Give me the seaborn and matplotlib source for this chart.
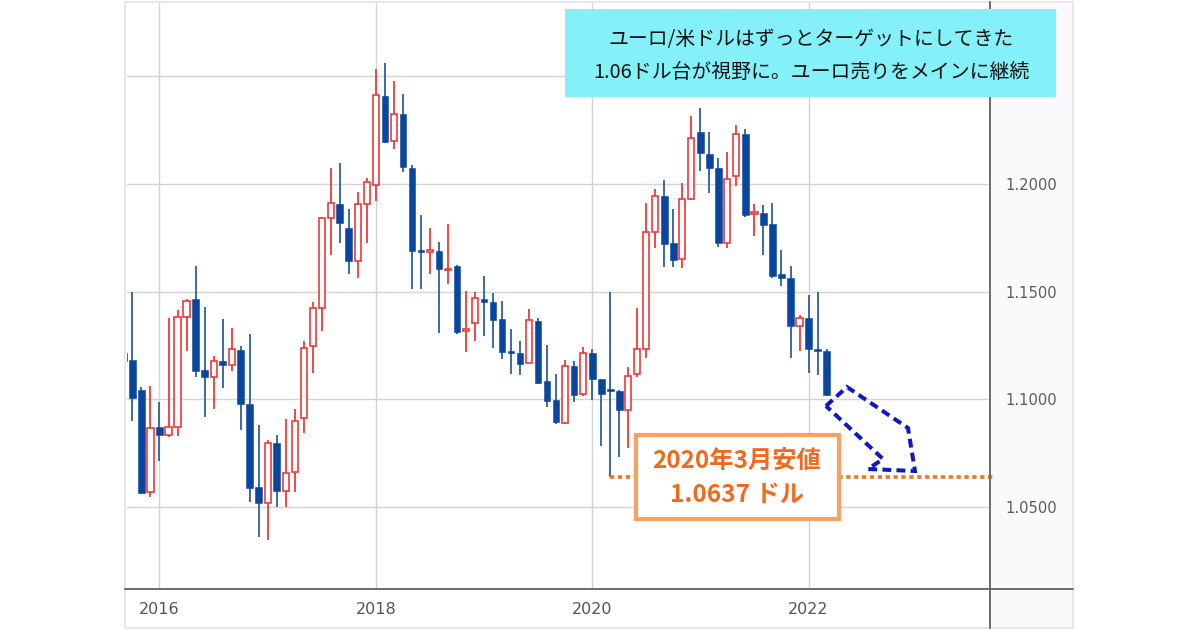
import numpy as np
import pandas as pd
import matplotlib
matplotlib.use("Agg")
import matplotlib.pyplot as plt
from matplotlib.patches import Rectangle, Polygon
from matplotlib.lines import Line2D
import seaborn as sns

# ---- data (EUR/USD monthly candles) ----
months = ["2015-09", "2015-10", "2015-11", "2015-12",
          "2016-01", "2016-02", "2016-03", "2016-04", "2016-05", "2016-06",
          "2016-07", "2016-08", "2016-09", "2016-10", "2016-11", "2016-12",
          "2017-01", "2017-02", "2017-03", "2017-04", "2017-05", "2017-06",
          "2017-07", "2017-08", "2017-09", "2017-10", "2017-11", "2017-12",
          "2018-01", "2018-02", "2018-03", "2018-04", "2018-05", "2018-06",
          "2018-07", "2018-08", "2018-09", "2018-10", "2018-11", "2018-12",
          "2019-01", "2019-02", "2019-03", "2019-04", "2019-05", "2019-06",
          "2019-07", "2019-08", "2019-09", "2019-10", "2019-11", "2019-12",
          "2020-01", "2020-02", "2020-03", "2020-04", "2020-05", "2020-06",
          "2020-07", "2020-08", "2020-09", "2020-10", "2020-11", "2020-12",
          "2021-01", "2021-02", "2021-03", "2021-04", "2021-05", "2021-06",
          "2021-07", "2021-08", "2021-09", "2021-10", "2021-11", "2021-12",
          "2022-01", "2022-02", "2022-03"]

open_ = [1.1215, 1.1182, 1.1043, 1.0570,
         1.0872, 1.0834, 1.0872, 1.1384, 1.1465, 1.1136,
         1.1105, 1.1175, 1.1159, 1.1229, 1.0978, 1.0591,
         1.0519, 1.0798, 1.0574, 1.0663, 1.0912, 1.1247,
         1.1424, 1.1841, 1.1908, 1.1795, 1.1642, 1.1908,
         1.1996, 1.2407, 1.2198, 1.2325, 1.2076, 1.1692,
         1.1684, 1.1690, 1.1598, 1.1620, 1.1318, 1.1353,
         1.1467, 1.1452, 1.1372, 1.1226, 1.1216, 1.1167,
         1.1365, 1.1082, 1.0996, 1.0891, 1.1155, 1.1023,
         1.1213, 1.1093, 1.1045, 1.1040, 1.0950, 1.1116,
         1.1234, 1.1779, 1.1942, 1.1725, 1.1651, 1.1930,
         1.2244, 1.2139, 1.2076, 1.1728, 1.2035, 1.2232,
         1.1860, 1.1867, 1.1815, 1.1581, 1.1565, 1.1340,
         1.1375, 1.1231, 1.1222]

high = [1.1460, 1.1497, 1.1056, 1.1062,
        1.0989, 1.1376, 1.1415, 1.1465, 1.1619, 1.1430,
        1.1201, 1.1372, 1.1330, 1.1248, 1.1302, 1.0880,
        1.0811, 1.0831, 1.0908, 1.0954, 1.1268, 1.1452,
        1.1846, 1.2076, 1.2098, 1.1883, 1.1963, 1.2030,
        1.2537, 1.2562, 1.2480, 1.2420, 1.2088, 1.1856,
        1.1796, 1.1731, 1.1815, 1.1625, 1.1505, 1.1500,
        1.1573, 1.1493, 1.1454, 1.1325, 1.1268, 1.1418,
        1.1376, 1.1252, 1.1117, 1.1183, 1.1175, 1.1241,
        1.1232, 1.1095, 1.1500, 1.1043, 1.1148, 1.1423,
        1.1914, 1.1975, 1.2019, 1.1883, 1.2007, 1.2314,
        1.2353, 1.2244, 1.2120, 1.2151, 1.2275, 1.2256,
        1.1906, 1.1903, 1.1914, 1.1694, 1.1619, 1.1392,
        1.1485, 1.1500, 1.1235]

low = [1.1087, 1.0897, 1.0558, 1.0547,
       1.0714, 1.0823, 1.0829, 1.1226, 1.1102, 1.0916,
       1.0955, 1.1051, 1.1133, 1.0857, 1.0523, 1.0358,
       1.0346, 1.0500, 1.0499, 1.0570, 1.0843, 1.1123,
       1.1319, 1.1671, 1.1725, 1.1581, 1.1564, 1.1725,
       1.1923, 1.2190, 1.2162, 1.2058, 1.1511, 1.1510,
       1.1582, 1.1307, 1.1536, 1.1302, 1.1218, 1.1270,
       1.1294, 1.1240, 1.1186, 1.1117, 1.1113, 1.1167,
       1.1071, 1.0965, 1.0885, 1.0885, 1.0989, 1.1016,
       1.0996, 1.0782, 1.0637, 1.0733, 1.0772, 1.1105,
       1.1190, 1.1702, 1.1616, 1.1616, 1.1609, 1.1925,
       1.2061, 1.1960, 1.1709, 1.1704, 1.1991, 1.1845,
       1.1760, 1.1671, 1.1563, 1.1528, 1.1190, 1.1226,
       1.1120, 1.1110, 1.1015]

close = [1.1175, 1.1004, 1.0565, 1.0865,
         1.0834, 1.0869, 1.1384, 1.1457, 1.1133, 1.1105,
         1.1175, 1.1159, 1.1234, 1.0978, 1.0586, 1.0519,
         1.0798, 1.0575, 1.0655, 1.0898, 1.1240, 1.1424,
         1.1842, 1.1914, 1.1818, 1.1643, 1.1908, 1.2008,
         1.2412, 1.2197, 1.2325, 1.2081, 1.1690, 1.1686,
         1.1691, 1.1606, 1.1604, 1.1310, 1.1325, 1.1469,
         1.1450, 1.1368, 1.1221, 1.1214, 1.1164, 1.1368,
         1.1074, 1.0991, 1.0893, 1.1155, 1.1017, 1.1213,
         1.1093, 1.1025, 1.1038, 1.0950, 1.1108, 1.1234,
         1.1779, 1.1942, 1.1722, 1.1647, 1.1930, 1.2216,
         1.2143, 1.2074, 1.1728, 1.2023, 1.2232, 1.1857,
         1.1866, 1.1810, 1.1573, 1.1565, 1.1340, 1.1376,
         1.1231, 1.1222, 1.1020]

year_ticks = ["2016", "2018", "2020", "2022"]
price_ticks = [1.05, 1.10, 1.15, 1.20, 1.25]
price_labels = ["1.0500", "1.1000", "1.1500", "1.2000", ""]  # 1.2500 hidden behind note

low_value = 1.0637
low_month = "2020-03"

title_lines = ["ユーロ/米ドルはずっとターゲットにしてきた",
               "1.06ドル台が視野に。ユーロ売りをメインに継続"]
box_lines = ["2020年3月安値", "1.0637 ドル"]

# ---- frame ----
df = pd.DataFrame({"month": pd.PeriodIndex(months, freq="M"),
                   "open": open_, "high": high, "low": low, "close": close})
base = pd.Period("2016-01", freq="M")
df["idx"] = [(p - base).n for p in df["month"]]
df["up"] = df["close"] >= df["open"]

sns.set_theme(style="white")
plt.rcParams["font.family"] = ["DejaVu Sans"]

W, H = 1200, 630
fig = plt.figure(figsize=(12, 6.3), dpi=100)
fig.patch.set_facecolor("white")

def fx(x):
    return x / W

def fy(y):
    return 1 - y / H

ax_l, ax_r, ax_t, ax_b = 127, 990, 3, 589
ax = fig.add_axes([fx(ax_l), fy(ax_b), (ax_r - ax_l) / W, (ax_b - ax_t) / H])
ax.set_facecolor("white")

BLUE = "#0B469E"
BLUE_WICK = "#2E5F9F"
RED = "#EE3A3A"

up = df[df["up"]]
dn = df[~df["up"]]
ax.vlines(up["idx"], up["low"], up["high"], colors=RED, linewidth=1.3, zorder=2)
ax.vlines(dn["idx"], dn["low"], dn["high"], colors=BLUE_WICK, linewidth=1.3, zorder=2)

def body(d):
    bottom = np.minimum(d["open"], d["close"])
    h = np.maximum(np.abs(d["close"] - d["open"]), 0.0008)
    return bottom, h

b, h = body(up)
ax.bar(up["idx"], h, bottom=b, width=0.68, facecolor="white",
       edgecolor=RED, linewidth=1.2, zorder=3)
b, h = body(dn)
ax.bar(dn["idx"], h, bottom=b, width=0.74, facecolor=BLUE,
       edgecolor=BLUE, linewidth=0.4, zorder=3)

ax.set_xlim(-3.605, 92.13)
ax.set_ylim(1.01174, 1.28415)
ax.set_xticks([(pd.Period(f"{y}-01", freq="M") - base).n for y in year_ticks])
ax.set_xticklabels(year_ticks)
ax.set_yticks(price_ticks)
ax.set_yticklabels(price_labels)
ax.yaxis.tick_right()
ax.grid(True, color="#d4d4d4", linewidth=1.0)
ax.set_axisbelow(True)
for s in ax.spines.values():
    s.set_visible(False)
ax.tick_params(axis="x", length=0, pad=9, labelsize=11.5, labelcolor="#555555")
ax.tick_params(axis="y", length=0, pad=11, labelsize=10.6, labelcolor="#5c5c5c")

# 2020-03 low dotted line (seaborn line)
lx = (pd.Period(low_month, freq="M") - base).n
line_df = pd.DataFrame({"x": [lx, 92.45], "y": [low_value, low_value]})
sns.lineplot(data=line_df, x="x", y="y", ax=ax, color="#F07A22", linewidth=2.7,
             linestyle=(0, (1.15, 0.95)), clip_on=False, zorder=4)
ax.set_xlabel("")
ax.set_ylabel("")

# ---- screenshot frame, axis lines ----
fig.patches.append(Rectangle((fx(990), fy(628)), (1073 - 990) / W, (628 - 2) / H,
                             transform=fig.transFigure, facecolor="#FAFAFC",
                             edgecolor="none", zorder=-2))
fig.patches.append(Rectangle((fx(125), fy(628)), (1073 - 125) / W, (628 - 2) / H,
                             transform=fig.transFigure, facecolor="none",
                             edgecolor="#E2E2E8", linewidth=1.2, zorder=-1))
fig.lines.append(Line2D([fx(125), fx(1073)], [fy(589), fy(589)],
                        transform=fig.transFigure, color="#6a6a6a", linewidth=1.4, zorder=3))
fig.lines.append(Line2D([fx(990), fx(990)], [fy(2), fy(628)],
                        transform=fig.transFigure, color="#6a6a6a", linewidth=1.4, zorder=3))

# ---- cyan note box ----
fig.patches.append(Rectangle((fx(565), fy(97)), (1056 - 565) / W, (97 - 9) / H,
                             transform=fig.transFigure, facecolor="#84F1F8",
                             edgecolor="none", zorder=5))
cjk = ["Noto Sans CJK JP", "DejaVu Sans"]
fig.text(fx(811), fy(40), title_lines[0], ha="center", va="center",
         fontsize=14.3, color="#111111", family=cjk, zorder=6)
fig.text(fx(811), fy(72), title_lines[1], ha="center", va="center",
         fontsize=14.3, color="#111111", family=cjk, zorder=6)

# ---- orange low box ----
fig.patches.append(Rectangle((fx(635.5), fy(518.7)), (838.5 - 635.5) / W, (518.7 - 434.8) / H,
                             transform=fig.transFigure, facecolor="white",
                             edgecolor="#F7A261", linewidth=3.0, zorder=5))
fig.text(fx(737), fy(461), box_lines[0], ha="center", va="center", fontsize=17.5,
         fontweight="bold", color="#F06A1C", family=cjk, zorder=6)
fig.text(fx(737), fy(495), box_lines[1], ha="center", va="center", fontsize=17.5,
         fontweight="bold", color="#F06A1C", family=cjk, zorder=6)

# ---- blue dashed arrow ----
arrow_px = [(826, 406), (847, 387), (908, 428), (915, 471), (868, 469), (883, 459)]
fig.patches.append(Polygon([(fx(x), fy(y)) for x, y in arrow_px], closed=True,
                           transform=fig.transFigure, fill=False, edgecolor="#1218C0",
                           linewidth=2.9, linestyle=(0, (2.2, 1.3)), joinstyle="miter",
                           zorder=6))

fig.savefig("out.png", dpi=100)
